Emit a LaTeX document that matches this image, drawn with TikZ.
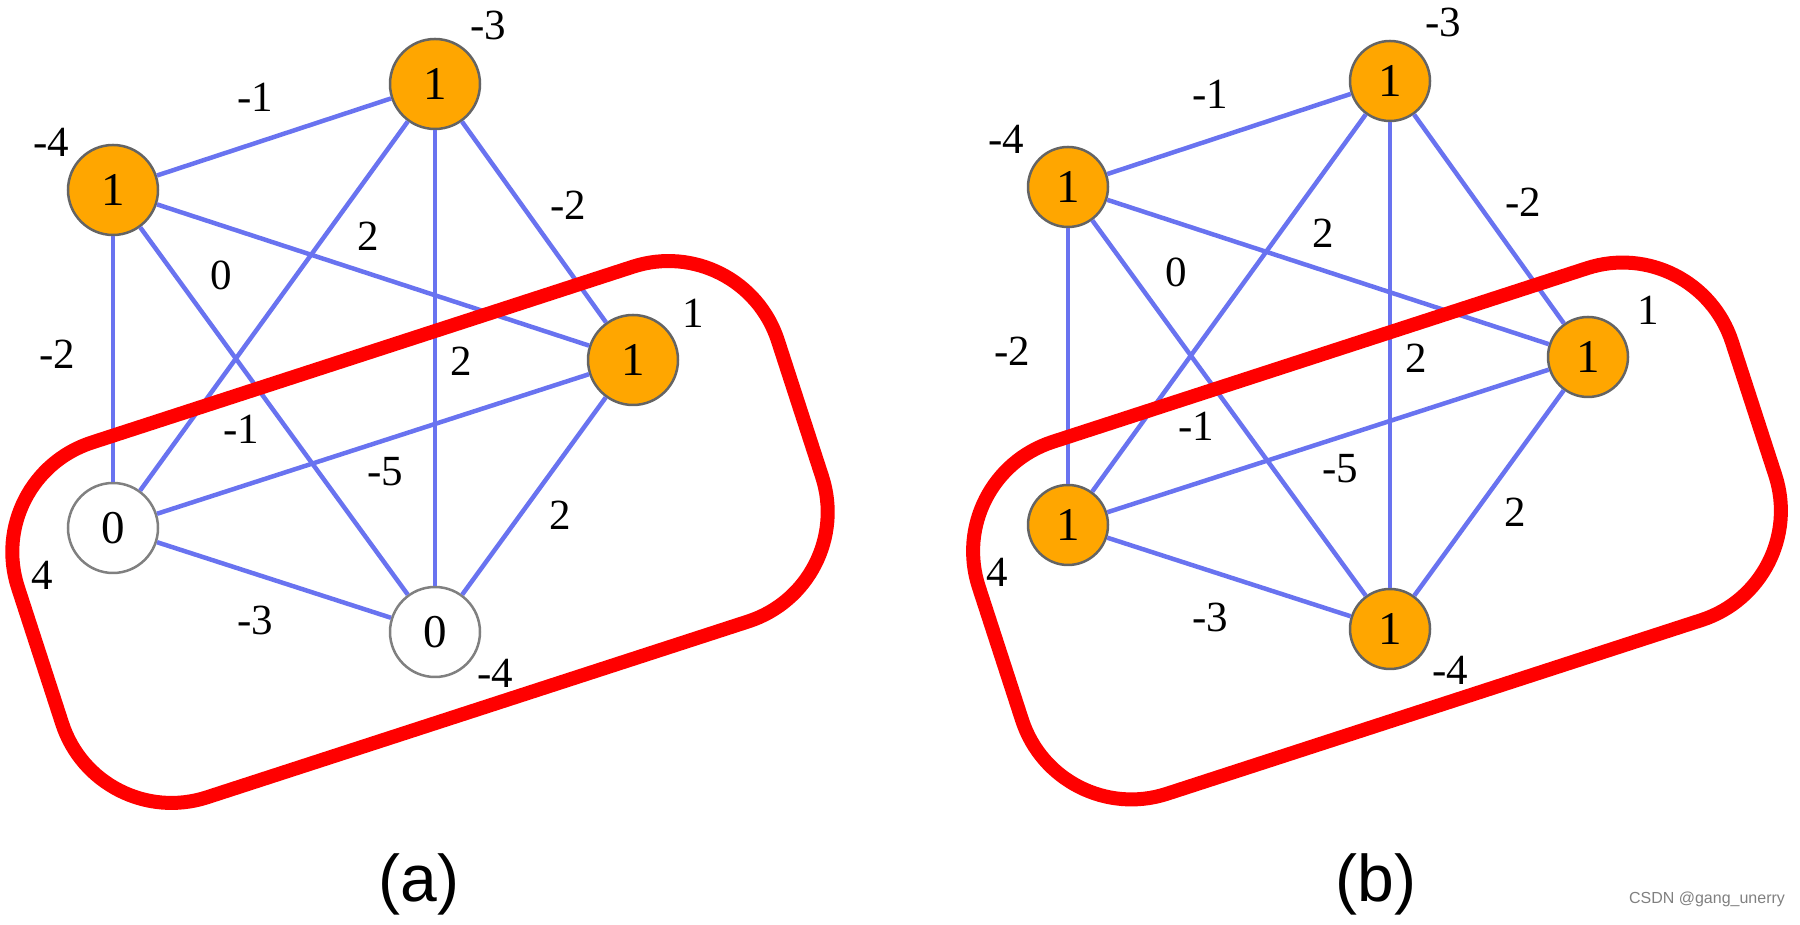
\documentclass[tikz,border=0pt]{standalone}
\usepackage{fontspec}
\setmainfont{Liberation Serif}
\newfontfamily\capfont{Liberation Sans}
\definecolor{edgeblue}{RGB}{105,115,240}
\definecolor{nodeorange}{RGB}{255,166,0}
\definecolor{ringgray}{RGB}{100,100,100}
\tikzset{
	vertex/.style={circle,draw=ringgray,line width=2.5pt,minimum size=90pt,inner sep=0pt,font=\fontsize{47}{50}\selectfont},
	one/.style={vertex,fill=nodeorange},
	zero/.style={vertex,fill=white,draw=gray},
	link/.style={edgeblue,line width=4.5pt},
	wt/.style={font=\fontsize{43}{50}\selectfont},
	cutbox/.style={draw=red,line width=14pt,rounded corners=115pt,minimum width=799pt,minimum height=373pt,inner sep=0pt,rotate=18},
	caption/.style={font=\capfont\fontsize{66}{70}\selectfont}
}
\begin{document}
\begin{tikzpicture}[x=1pt,y=1pt]
	\useasboundingbox (0,0) rectangle (1800,925);
	%	(a)
	\node[one] (aL) at (113,735) {1};
	\node[one] (aT) at (435,841) {1};
	\node[one] (aR) at (633,565) {1};
	\node[zero] (aD) at (113,397) {0};
	\node[zero] (aB) at (435,293) {0};
	\foreach \u/\v in {aL/aT,aL/aR,aL/aD,aL/aB,aT/aR,aT/aD,aT/aB,aR/aD,aR/aB,aD/aB}
		\draw[link] (\u) -- (\v);
	\node[wt] (aLw) at (51,783) {-4};
	\node[wt] (aTw) at (488,900) {-3};
	\node[wt] (aRw) at (693,612) {1};
	\node[wt] (aDw) at (42,350) {4};
	\node[wt] (aBw) at (495,252) {-4};
	\node[wt] (aLT) at (255,828) {-1};
	\node[wt] (aTR) at (568,720) {-2};
	\node[wt] (aTD) at (368,689) {2};
	\node[wt] (aLB) at (221,650) {0};
	\node[wt] (aLD) at (57,571) {-2};
	\node[wt] (aTB) at (461,564) {2};
	\node[wt] (aLR) at (241,496) {-1};
	\node[wt] (aRD) at (385,453) {-5};
	\node[wt] (aRB) at (560,410) {2};
	\node[wt] (aDB) at (255,305) {-3};
	\node[cutbox] (acut) at (420,393) {};
	\node[caption] (acap) at (419,41) {(a)};
	%	(b)
	\begin{scope}[shift={(955,3)},vertex/.append style={minimum size=80pt}]
	\node[one] (bL) at (113,735) {1};
	\node[one] (bT) at (435,841) {1};
	\node[one] (bR) at (633,565) {1};
	\node[one] (bD) at (113,397) {1};
	\node[one] (bB) at (435,293) {1};
	\foreach \u/\v in {bL/bT,bL/bR,bL/bD,bL/bB,bT/bR,bT/bD,bT/bB,bR/bD,bR/bB,bD/bB}
		\draw[link] (\u) -- (\v);
	\node[wt] (bLw) at (51,783) {-4};
	\node[wt] (bTw) at (488,900) {-3};
	\node[wt] (bRw) at (693,612) {1};
	\node[wt] (bDw) at (42,350) {4};
	\node[wt] (bBw) at (495,252) {-4};
	\node[wt] (bLT) at (255,828) {-1};
	\node[wt] (bTR) at (568,720) {-2};
	\node[wt] (bTD) at (368,689) {2};
	\node[wt] (bLB) at (221,650) {0};
	\node[wt] (bLD) at (57,571) {-2};
	\node[wt] (bTB) at (461,564) {2};
	\node[wt] (bLR) at (241,496) {-1};
	\node[wt] (bRD) at (385,453) {-5};
	\node[wt] (bRB) at (560,410) {2};
	\node[wt] (bDB) at (255,305) {-3};
	\node[cutbox,minimum width=792pt,minimum height=370pt] (bcut) at (422,391) {};
	\end{scope}
	\node[caption] (bcap) at (1376,41) {(b)};
	\node[font=\capfont\fontsize{16}{18}\selectfont,text=gray] (mark) at (1707,26) {CSDN @gang\_unerry};
\end{tikzpicture}
\end{document}
